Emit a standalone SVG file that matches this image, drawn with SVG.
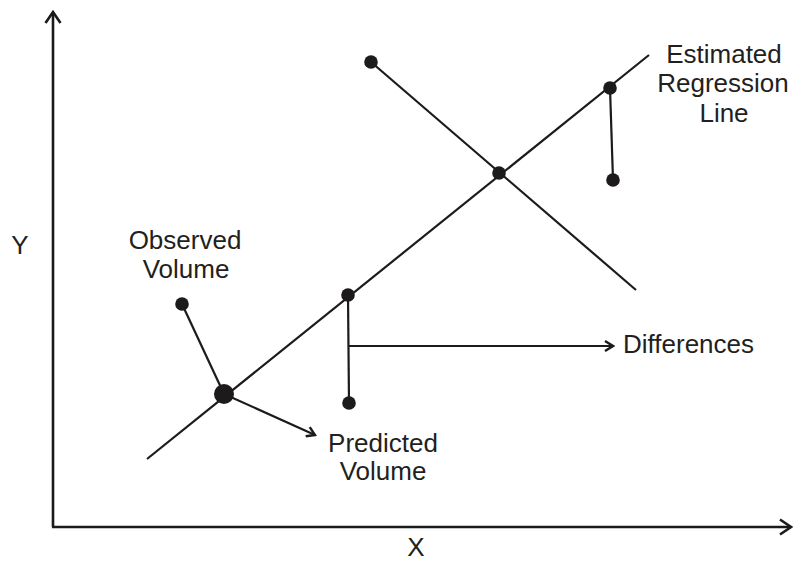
<svg xmlns="http://www.w3.org/2000/svg" width="794" height="563" viewBox="0 0 794 563">
<style>
.ln{stroke:#1c1a1b;stroke-width:2.2;fill:none;stroke-linecap:butt}
.ax{stroke:#1c1a1b;stroke-width:2.6;fill:none}
.dot{fill:#1c1a1b}
text{font-family:"Liberation Sans",Arial,sans-serif;font-size:26px;fill:#231f20;text-anchor:middle}
</style>
<defs>
<marker id="ah" viewBox="0 0 12 12" refX="10" refY="6" markerWidth="12" markerHeight="12" markerUnits="userSpaceOnUse" orient="auto">
<path d="M2,1 L10,6 L2,11" fill="none" stroke="#1c1a1b" stroke-width="2.4"/>
</marker>
<marker id="ahx" viewBox="0 0 16 18" refX="14" refY="9" markerWidth="16" markerHeight="18" markerUnits="userSpaceOnUse" orient="auto">
<path d="M3,1.5 L14,9 L3,16.5" fill="none" stroke="#1c1a1b" stroke-width="2.6"/>
</marker>
</defs>
<rect width="794" height="563" fill="#ffffff"/>
<g id="axes">
<path class="ax" d="M53,527 L53,12" marker-end="url(#ahx)"/>
<path class="ax" d="M52,527 L791,527" marker-end="url(#ahx)"/>
<text x="20" y="254">Y</text>
<text x="416" y="556">X</text>
</g>
<g id="connectors">
<line class="ln" x1="147" y1="459" x2="649" y2="55"/>
<line class="ln" x1="371" y1="62" x2="636" y2="290"/>
<line class="ln" x1="182" y1="304" x2="224" y2="394"/>
<line class="ln" x1="224" y1="394" x2="315" y2="435" marker-end="url(#ah)"/>
<line class="ln" x1="348" y1="295" x2="349" y2="403"/>
<line class="ln" x1="348" y1="346" x2="613" y2="346" marker-end="url(#ah)"/>
<line class="ln" x1="610" y1="88" x2="613" y2="180"/>
</g>
<g id="points">
<circle class="dot" cx="224" cy="394" r="10"/>
<circle class="dot" cx="182" cy="304" r="6.8"/>
<circle class="dot" cx="348" cy="295" r="6.8"/>
<circle class="dot" cx="349" cy="403" r="6.8"/>
<circle class="dot" cx="499" cy="173" r="6.8"/>
<circle class="dot" cx="371" cy="62" r="6.8"/>
<circle class="dot" cx="610" cy="88" r="6.8"/>
<circle class="dot" cx="613" cy="180" r="6.8"/>
</g>
<g id="label-observed">
<text x="185" y="249">Observed</text>
<text x="186" y="278">Volume</text>
</g>
<g id="label-predicted">
<text x="383" y="452">Predicted</text>
<text x="383" y="480">Volume</text>
</g>
<g id="label-differences">
<text x="623" y="353" style="text-anchor:start">Differences</text>
</g>
<g id="label-regression">
<text x="724" y="63">Estimated</text>
<text x="723" y="92">Regression</text>
<text x="724" y="122">Line</text>
</g>
</svg>
